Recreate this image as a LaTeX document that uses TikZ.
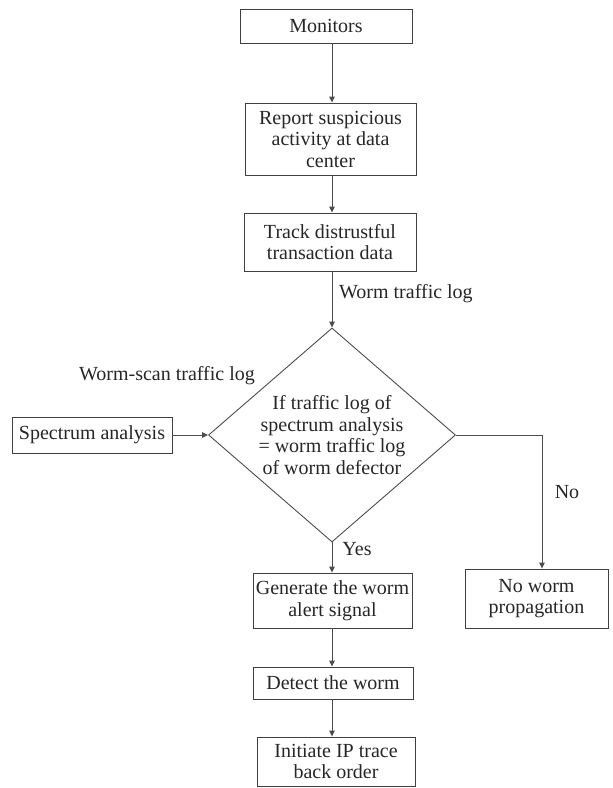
\documentclass[tikz,border=0pt]{standalone}
\usepackage{fontspec}
\setmainfont{Liberation Serif}
\usetikzlibrary{shapes.geometric,arrows.meta}
\begin{document}
\begin{tikzpicture}[x=1pt,y=-1pt,
  every node/.style={font=\fontsize{20}{21.5}\selectfont, text=black!85},
  box/.style={draw=black!75, line width=0.9pt, align=center, inner sep=0pt},
  arr/.style={draw=black!70, line width=0.9pt, -{Triangle[length=6pt,width=5.5pt]}},
  lbl/.style={inner sep=0pt}]
\useasboundingbox (0,0) rectangle (613,788);
\node[box, minimum width=172pt, minimum height=34pt] (mon) at (326,26) {Monitors};
\node[box, minimum width=171pt, minimum height=72pt] (rep) at (330.5,139) {Report suspicious\\activity at data\\center};
\node[box, minimum width=172pt, minimum height=58pt] (trk) at (330,242) {Track distrustful\\transaction data};
\node[draw=black!70, line width=0.9pt, diamond, aspect=1.16, inner sep=0pt,
      minimum width=247pt, minimum height=214pt, align=center] (dia) at (332,435)
      {If traffic log of\\spectrum analysis\\= worm traffic log\\of worm defector};
\node[box, minimum width=160pt, minimum height=36pt] (spec) at (92,435) {Spectrum analysis};
\node[box, minimum width=159pt, minimum height=55pt] (gen) at (332.5,600.5) {Generate the worm\\alert signal};
\node[box, minimum width=160pt, minimum height=32pt] (det) at (333,683) {Detect the worm};
\node[box, minimum width=158pt, minimum height=49pt] (ini) at (336,761.5) {Initiate IP trace\\back order};
\node[box, minimum width=143pt, minimum height=59pt] (now) at (536.5,598.5) {No worm\\propagation};
\node[lbl, anchor=west] (wtl) at (339,294) {Worm traffic log};
\node[lbl] (wsl) at (167,376) {Worm-scan traffic log};
\node[lbl] (no) at (567,492) {No};
\node[lbl] (yes) at (357,549) {Yes};
\draw[arr] (mon.south -| dia.north) -- (rep.north -| dia.north);
\draw[arr] (rep.south -| dia.north) -- (trk.north -| dia.north);
\draw[arr] (trk.south -| dia.north) -- (dia.north);
\draw[arr] (spec.east) -- (dia.west);
\draw[arr] (dia.south) -- (gen.north -| dia.south);
\draw[arr] (gen.south -| dia.south) -- (det.north -| dia.south);
\draw[arr] (det.south -| dia.south) -- (ini.north -| dia.south);
\draw[arr] (dia.east) -| ([xshift=5.5pt]now.north);
\end{tikzpicture}
\end{document}
